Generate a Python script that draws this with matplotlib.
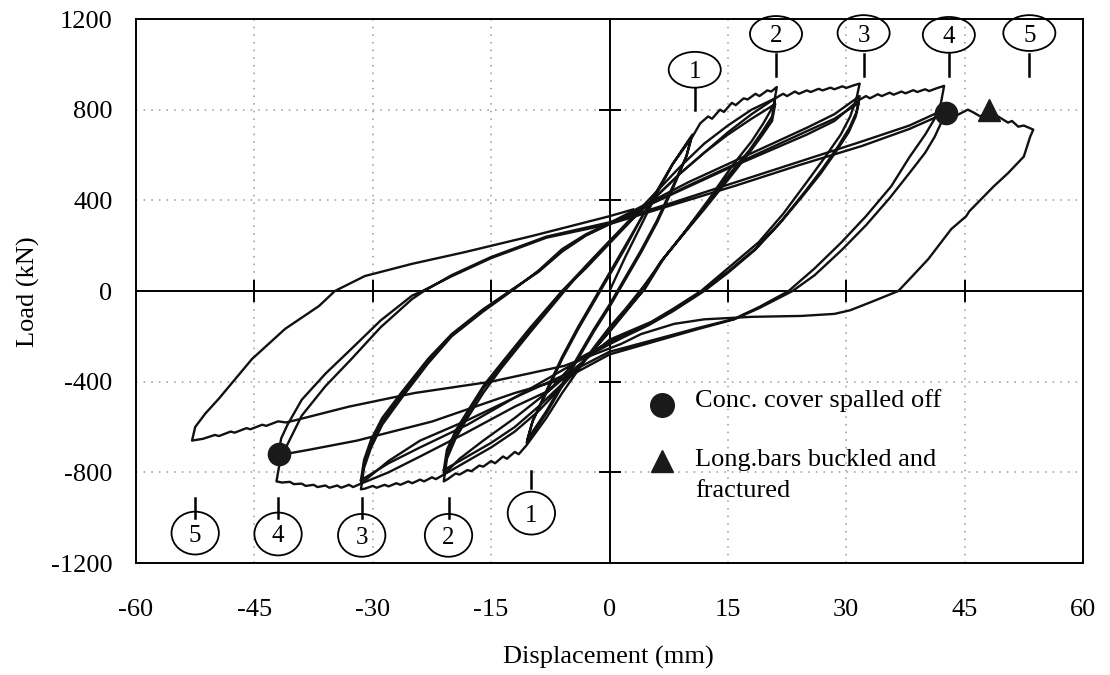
import numpy as np
import matplotlib
matplotlib.use('Agg')
import matplotlib.pyplot as plt
from matplotlib.patches import Ellipse

plt.rcParams['font.family'] = ['Liberation Serif', 'DejaVu Serif']
plt.rcParams['axes.unicode_minus'] = False

# hysteresis traces, (displacement mm, load kN), one polyline per amplitude group
amp1_pts = [(0, 0), (2, 150), (4, 290), (6, 430), (8, 560), (10.5, 690),
            (9.8, 600), (8, 450), (6, 300), (4, 170), (2, 50), (0, -70), (-2, -180),
            (-4, -300), (-6, -420), (-8, -540), (-10.5, -670),
            (-9.8, -580), (-8, -440), (-6, -290), (-4, -160), (-2, -40), (0, 80),
            (2, 200), (4, 320), (6, 440), (8, 560), (10.4, 680),
            (9.7, 590), (8, 460), (6, 310), (4, 180), (2, 60), (0, -60), (-2, -170),
            (-4, -290), (-6, -410), (-8, -530), (-10.4, -655),
            (-9.7, -570), (-8, -450), (-6, -300), (-4, -170), (-2, -50), (0, 70)]

amp2_pts = [(0, 70), (2, 190), (4, 320), (6, 440), (8, 560), (10.5, 680),
            (11.5, 740), (12.5, 770), (13, 760), (14, 800), (14.5, 790), (15.5, 830),
            (16, 820), (17, 850), (17.5, 845), (18.5, 870), (19, 860), (20, 885),
            (20.5, 880), (21.2, 900),
            (20.8, 820), (19.5, 740), (18, 660), (15.5, 550), (12.5, 400), (9.5, 260),
            (7, 150), (4.3, 20), (2, -80), (0, -160), (-2, -250), (-4, -350),
            (-6, -450), (-8, -560), (-10.5, -680),
            (-11.5, -720), (-12, -710), (-13, -740), (-13.5, -730), (-14.5, -760),
            (-15, -750), (-16, -775), (-16.5, -770), (-17.5, -795), (-18, -790),
            (-19, -810), (-19.5, -805), (-20.5, -830), (-21, -840),
            (-20.6, -740), (-19.5, -650), (-18, -560), (-16, -450), (-13.7, -340),
            (-10, -180), (-5.7, 0), (-3, 110), (0, 220), (3, 330), (6, 440), (9, 550),
            (12, 650), (15, 730), (18, 800), (21, 850),
            (20.6, 770), (19.3, 700), (17.7, 620), (15.3, 520), (12.3, 380), (9.3, 250),
            (6.8, 140), (4.5, 10), (2, -90), (0, -175), (-3, -300), (-6, -420),
            (-9, -530), (-12, -620), (-15, -690), (-18, -750), (-21, -810),
            (-20.6, -720), (-19.5, -630), (-18, -540), (-16, -430), (-13.5, -320),
            (-10, -170), (-6, 0), (-3, 100), (0, 210), (3, 320), (6, 420), (9, 520),
            (12, 610), (15, 690), (18, 760), (21, 825),
            (20.6, 750), (19.2, 680), (17.5, 600), (15, 490), (12, 360), (9, 235),
            (6.5, 130), (4.2, 0), (2, -95), (0, -180), (-3, -300), (-6, -410),
            (-9, -510), (-12, -600), (-15, -670), (-18, -730), (-21, -790)]

amp3_pts = [(-21, -790), (-20.6, -700), (-19.4, -610), (-17.8, -520), (-15.8, -410),
            (-13.5, -310), (-10, -160), (-6, 0), (-3, 110), (0, 220), (3, 320),
            (6, 420), (9, 520), (12, 610), (15, 700), (18, 780), (21, 850),
            (22, 870), (22.5, 860), (23.5, 880), (24, 870), (25, 885), (25.5, 878),
            (26.5, 892), (27, 885), (28, 897), (28.5, 890), (29.5, 903), (30, 896),
            (31, 908), (31.7, 915),
            (31.3, 850), (30.5, 770), (29.3, 690), (27.5, 600), (25.2, 490), (22, 340),
            (18.9, 215), (15, 100), (11.6, 0), (8, -80), (5.3, -136), (2, -185),
            (0, -215), (-4, -330), (-8, -450), (-12, -560), (-16, -660), (-19, -740),
            (-21, -810),
            (-22, -830), (-22.5, -822), (-23.5, -840), (-24, -832), (-25, -848),
            (-25.5, -840), (-26.5, -855), (-27, -848), (-28, -862), (-28.5, -855),
            (-29.5, -868), (-30, -860), (-31, -872), (-31.5, -875),
            (-31.1, -780), (-30.2, -690), (-28.8, -590), (-26.3, -470), (-23, -320),
            (-20, -200), (-16, -90), (-12.4, 0), (-9, 90), (-6, 185), (-3, 250),
            (0, 300), (5, 390), (10, 480), (15, 560), (20, 640), (25, 720),
            (28.5, 780), (31.7, 860),
            (31.3, 790), (30.4, 720), (29, 640), (27, 540), (24.8, 440), (21.8, 310),
            (18.6, 190), (15, 85), (11.8, 0), (8, -85), (5, -145), (2, -195),
            (0, -225), (-4, -300), (-7.7, -440), (-12, -510), (-18.4, -630),
            (-24, -730), (-28, -800), (-31.5, -850),
            (-31.1, -760), (-30.2, -670), (-28.8, -575), (-26.3, -455), (-23, -310),
            (-20, -195), (-16, -85), (-12.6, 0), (-9, 85), (-6, 175), (-3, 245),
            (0, 295), (5, 380), (10, 465), (15, 545), (20, 625), (25, 705),
            (28.5, 760), (31.6, 830),
            (31.2, 770), (30.3, 700), (28.8, 620), (26.8, 520), (24.5, 420),
            (21.5, 295), (18.4, 180), (15, 80), (12, 0), (8, -90), (5, -150),
            (2, -200), (0, -235), (-4, -310), (-8, -390), (-12, -470), (-18, -590),
            (-24, -690), (-28, -760), (-31.5, -835)]

amp4_pts = [(-31.5, -835), (-31.1, -745), (-30.2, -655), (-28.8, -560), (-26.3, -445),
            (-23, -300), (-20, -190), (-16, -80), (-12.6, 0), (-9, 85), (-6, 175),
            (-3, 245), (0, 295), (5, 380), (10, 460), (15, 540), (20, 615), (25, 690),
            (28.5, 750), (31.5, 840),
            (32.5, 860), (33, 850), (34, 868), (34.5, 860), (35.5, 875), (36, 866),
            (37, 880), (37.5, 872), (38.5, 886), (39, 878), (40, 890), (40.5, 882),
            (41.5, 895), (42.4, 905),
            (42, 830), (41.2, 760), (40, 690), (38, 590), (35.7, 462), (32.5, 330),
            (29.4, 215), (26, 100), (22.7, 0), (19, -70), (15.8, -123), (11, -165),
            (7.5, -198), (3, -240), (0, -268), (-5.7, -370), (-12, -470), (-18, -570),
            (-24, -660), (-28, -750), (-31.5, -850),
            (-32.5, -865), (-33, -855), (-34, -868), (-34.5, -858), (-35.5, -868),
            (-36, -858), (-37, -865), (-37.5, -855), (-38.5, -860), (-39, -850),
            (-40, -852), (-40.5, -842), (-41.5, -845), (-42.2, -840),
            (-41.8, -760), (-41, -690), (-39, -550), (-36, -420), (-32.7, -300),
            (-29, -160), (-25, -35), (-23.5, 0), (-20, 70), (-15, 150), (-8, 240),
            (0, 303), (8, 390), (16, 480), (24, 570), (32, 660), (38, 730),
            (42.4, 800),
            (42, 740), (41.2, 680), (40, 610), (38, 520), (35.5, 410), (32.5, 290),
            (29.4, 180), (26, 70), (23.2, 0), (19, -75), (15.8, -125), (11, -170),
            (7.5, -205), (3, -250), (0, -280), (-5.7, -387), (-12, -450),
            (-22.5, -576), (-32, -660), (-38, -700), (-42, -725),
            (-41.6, -650), (-40.8, -590), (-39, -480), (-36, -365), (-32.7, -255),
            (-29, -130), (-25, -20), (-23.7, 0), (-20, 65), (-15, 145), (-8, 235),
            (0, 295), (8, 380), (16, 465), (24, 555), (32, 640), (38, 715),
            (42.7, 787)]

amp5_pts = [(42.7, 787), (44, 775), (45.4, 800), (46, 790), (47, 770), (48.1, 800),
            (49, 775), (50.5, 743), (51, 750), (51.8, 725), (52.5, 730), (53.7, 712),
            (53.3, 680), (52.5, 593), (50.5, 520), (48.7, 462), (45.6, 352),
            (45.2, 330), (43.3, 273), (40.4, 141), (38.5, 70), (36.6, 0), (33.2, -48),
            (30.5, -85), (28.5, -101), (24.3, -110), (18, -114), (12, -125),
            (8.2, -145), (4, -190), (1.5, -233), (-5.7, -330), (-15, -400),
            (-24.7, -450), (-33, -510), (-39.9, -571),
            (-41, -580), (-42, -575), (-43.5, -595), (-44, -590), (-45.5, -610),
            (-46, -605), (-47.5, -625), (-48, -620), (-49.5, -640), (-50, -635),
            (-51.5, -652), (-52.9, -660),
            (-52.5, -600), (-51.2, -540), (-49.5, -475), (-45.3, -300), (-41.1, -167),
            (-36.8, -66), (-34.8, 0), (-31, 66), (-25, 120), (-18.4, 171),
            (-9.9, 242), (0, 330), (3, 360)]

# damage events
spall_x = [42.7, -41.9]
spall_y = [787, -721]
buckle_x = [48.1]
buckle_y = [800]

# cycle number callouts
top_num = ['1', '2', '3', '4', '5']
top_x = [10.8, 21.1, 32.2, 43.0, 53.2]
top_y = [976, 1134, 1138, 1130, 1138]
top_tick = [(800, 897), (950, 1046), (950, 1046), (950, 1046), (950, 1046)]
bot_num = ['1', '2', '3', '4', '5']
bot_x = [-9.9, -20.4, -31.4, -42.0, -52.5]
bot_y = [-980, -1078, -1078, -1072, -1068]
bot_tick = [(-870, -796), (-1002, -914), (-1002, -914), (-1002, -914), (-1002, -914)]

xticks = [-60, -45, -30, -15, 0, 15, 30, 45, 60]
yticks = [-1200, -800, -400, 0, 400, 800, 1200]

fig = plt.figure(figsize=(11.1, 6.75), dpi=100)
ax = fig.add_axes([136 / 1110, 112 / 675, 947 / 1110, 544 / 675])
ax.set_xlim(-60, 60)
ax.set_ylim(-1200, 1200)

# dotted grid, no line on the zero axes or frame
for gx in xticks[1:-1]:
    if gx != 0:
        ax.axvline(gx, color='#999999', ls=(0, (1, 4)), lw=1.1, zorder=1)
for gy in yticks[1:-1]:
    if gy != 0:
        ax.axhline(gy, color='#999999', ls=(0, (1, 4)), lw=1.1, zorder=1)
ax.axhline(0, color='black', lw=1.4, zorder=2)
ax.axvline(0, color='black', lw=1.4, zorder=2)

# cross ticks on the central axes
inner_x = [t for t in xticks[1:-1] if t != 0]
inner_y = [t for t in yticks[1:-1] if t != 0]
ax.plot(inner_x, [0] * len(inner_x), ls='none', marker='|', ms=16, mew=1.4,
        color='black', zorder=2)
ax.plot([0] * len(inner_y), inner_y, ls='none', marker='_', ms=16, mew=1.4,
        color='black', zorder=2)

for pts in [amp1_pts, amp2_pts, amp3_pts, amp4_pts, amp5_pts]:
    p = np.array(pts, dtype=float)
    ax.plot(p[:, 0], p[:, 1], color='#111111', lw=1.7, solid_joinstyle='round',
            zorder=3)

ax.plot(spall_x, spall_y, ls='none', marker='o', ms=16, color='#1a1a1a', zorder=4)
ax.plot(buckle_x, buckle_y, ls='none', marker='^', ms=16, color='#1a1a1a', zorder=4)

for lab, x, y, (t0, t1) in zip(top_num, top_x, top_y, top_tick):
    ax.plot([x, x], [t0, t1], color='black', lw=1.8, zorder=3)
    ax.add_patch(Ellipse((x, y), 6.6, 158, fill=False, ec='black', lw=1.3,
                         clip_on=False, zorder=5))
    ax.text(x, y, lab, ha='center', va='center_baseline', fontsize=18, zorder=6)
for lab, x, y, (t0, t1) in zip(bot_num, bot_x, bot_y, bot_tick):
    ax.plot([x, x], [t0, t1], color='black', lw=1.8, zorder=3)
    ax.add_patch(Ellipse((x, y), 6.0, 189, fill=False, ec='black', lw=1.3,
                         clip_on=False, zorder=5))
    ax.text(x, y, lab, ha='center', va='center_baseline', fontsize=18, zorder=6)

# legend drawn inside the plot
ax.plot([6.6], [-505], ls='none', marker='o', ms=17, color='#1a1a1a')
ax.plot([6.6], [-752], ls='none', marker='^', ms=16, color='#1a1a1a')
ax.text(10.8, -483, 'Conc. cover spalled off', fontsize=19, va='center')
ax.text(10.8, -747, 'Long.bars buckled and', fontsize=19, va='center')
ax.text(10.8, -884, 'fractured', fontsize=19, va='center')

ax.set_xticks(xticks)
ax.set_yticks(yticks)
ax.tick_params(axis='both', length=0, labelsize=19)
ax.tick_params(axis='x', pad=26)
ax.tick_params(axis='y', pad=17)
for s in ax.spines.values():
    s.set_linewidth(1.4)

fig.text(608 / 1110, 1 - 657 / 675, 'Displacement (mm)', ha='center', va='center',
         fontsize=19)
fig.text(28 / 1110, 1 - 292 / 675, 'Load (kN)', ha='center', va='center',
         rotation=90, fontsize=19)

fig.savefig('out.png', dpi=100, facecolor='white')
